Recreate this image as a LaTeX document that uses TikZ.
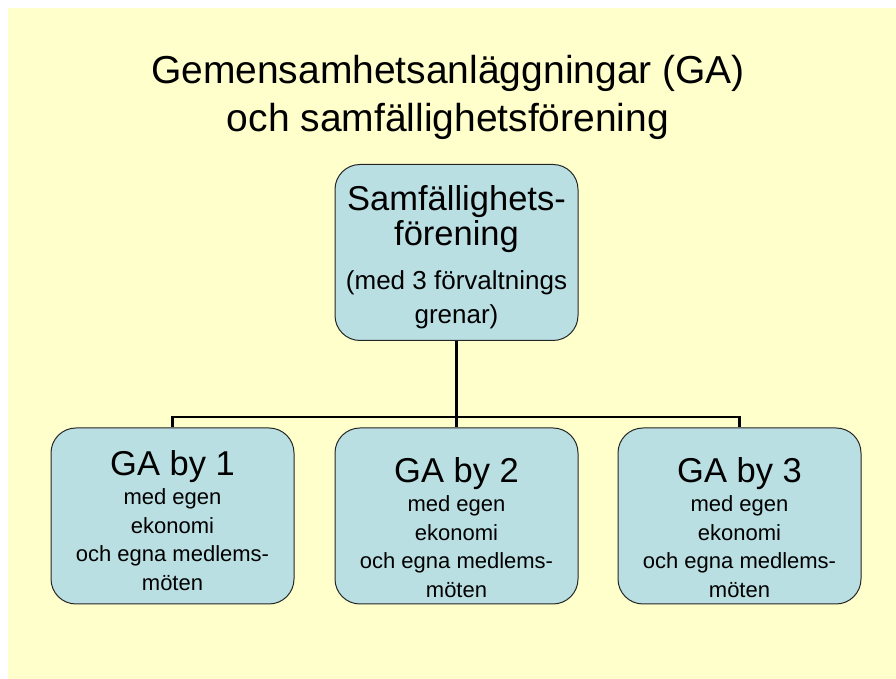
\documentclass[tikz,border=0pt]{standalone}
\usepackage{fontspec}
\setmainfont{Liberation Sans}
\usetikzlibrary{positioning}
\definecolor{slideyellow}{RGB}{255,255,204}
\definecolor{boxblue}{RGB}{185,223,227}
\newcommand{\bigtxt}{\fontsize{34.5}{36}\selectfont}
\newcommand{\midtxt}{\fontsize{26}{33}\selectfont}
\newcommand{\smalltxt}{\fontsize{22}{27}\selectfont}
\tikzset{
  orgbox/.style={draw=black!85, line width=1pt, fill=boxblue, rounded corners=25pt,
    minimum width=243pt, minimum height=176pt, inner sep=0pt, align=center},
  conn/.style={line width=2.6pt},
}
\begin{document}
\begin{tikzpicture}[x=1pt,y=1pt]
  \useasboundingbox (0,0) rectangle (896,679);
  \fill[slideyellow] (8,0) rectangle (896,671); % background
  \node[align=center, font=\fontsize{39}{48}\selectfont] (title) at (448,582)
    {Gemensamhetsanläggningar (GA)\\och samfällighetsförening}; % title
  \node[orgbox, font=\midtxt] (sf) at (456.5,426.5)
    {\rule{0pt}{34pt}\bigtxt Samfällighets-\\[2.3pt]\bigtxt förening\\[10.3pt](med 3 förvaltnings\\[1pt]grenar)}; % top
  \foreach \i/\x/\h in {1/172.5/34.5, 2/456.5/48.5, 3/739.5/48.5}
    \node[orgbox, font=\smalltxt] (by\i) at (\x,163)
      {\rule{0pt}{\h pt}\bigtxt GA by \i\\[2pt]med egen\\[1.5pt]ekonomi\\[1.5pt]och egna medlems-\\[1.5pt]möten}; % villages
  \coordinate (bus) at (456.5,262);
  \draw[conn] (sf.south) -- (bus);
  \draw[conn] (by1.north) -- (by1.north |- bus) -- (by3.north |- bus) -- (by3.north);
  \draw[conn] (bus) -- (by2.north);
\end{tikzpicture}
\end{document}
